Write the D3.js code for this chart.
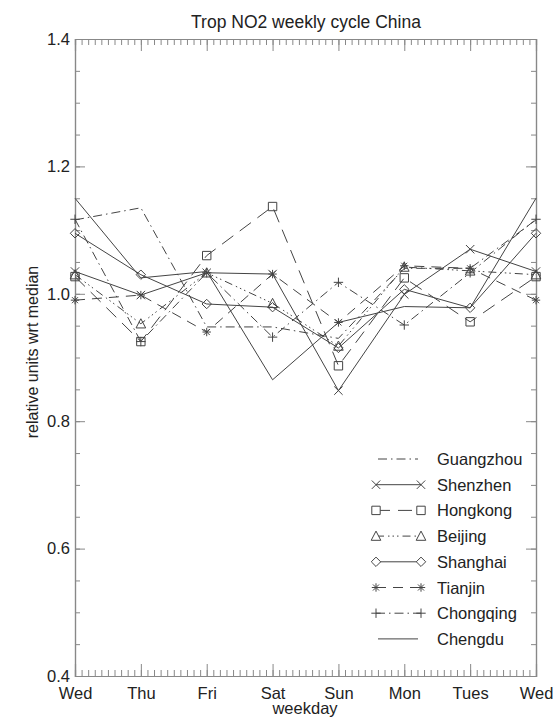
<!DOCTYPE html>
<html><head><meta charset="utf-8">
<script src="https://cdn.jsdelivr.net/npm/d3@7"></script>
<style>body{margin:0;background:#fff}text{font-family:"Liberation Sans",Arial,Helvetica,sans-serif;fill:#222}</style>
</head><body>
<svg id="c" width="556" height="717"></svg>
<script>
const days = ["Wed","Thu","Fri","Sat","Sun","Mon","Tues","Wed"];
const yTicks = [0.4,0.6,0.8,1.0,1.2,1.4];
const cities = ["Guangzhou","Shenzhen","Hongkong","Beijing","Shanghai","Tianjin","Chongqing","Chengdu"];
const guangzhou = [1.116,1.135,0.948,0.948,0.930,1.040,1.040,1.116];
const shenzhen  = [1.035,0.998,1.033,1.031,0.848,0.999,1.070,1.035];
const hongkong  = [1.027,0.925,1.060,1.137,0.887,1.025,0.956,1.027];
const beijing   = [1.030,0.953,1.033,0.985,0.918,1.042,1.036,1.030];
const shanghai  = [1.095,1.030,0.984,0.979,0.915,1.007,0.978,1.095];
const tianjin   = [0.990,0.998,0.940,1.031,0.955,1.044,1.040,0.990];
const chongqing = [1.117,0.925,1.033,0.932,1.018,0.951,1.033,1.117];
const chengdu   = [1.150,1.025,1.035,0.865,0.955,0.980,0.978,1.150];
const seriesValues = [guangzhou,shenzhen,hongkong,beijing,shanghai,tianjin,chongqing,chengdu];

const styles = [
  {dash:"9,4,1.5,4", sym:null},
  {dash:null, sym:"x"},
  {dash:"14,8", sym:"square"},
  {dash:"8,4,1.5,3,1.5,3,1.5,4", sym:"triangle"},
  {dash:null, sym:"diamond"},
  {dash:"10,7", sym:"asterisk"},
  {dash:"9,4,1.5,4", sym:"plus"},
  {dash:null, sym:null}
];

const svg = d3.select("#c");
const L=75,R=536,T=39,B=676;
const x = d3.scaleLinear().domain([0,7]).range([L,R]);
const y = d3.scaleLinear().domain([0.4,1.4]).range([B,T]);
const axisCol="#888", lineCol="#444";
const fs="16.5px";

function styleAxis(g){g.select(".domain").attr("stroke",axisCol);g.selectAll("line").attr("stroke",axisCol);g.selectAll("text").style("font-size",fs).attr("fill","#222");}

// minor ticks
const xMinor = d3.range(0,70.5,1).map(d=>d/10);
const yMinor = d3.range(8,28.5,1).map(d=>d*0.05);
svg.append("g").attr("transform",`translate(0,${B})`).call(d3.axisBottom(x).tickValues(xMinor).tickSize(-6).tickFormat("")).call(styleAxis);
svg.append("g").attr("transform",`translate(0,${T})`).call(d3.axisTop(x).tickValues(xMinor).tickSize(-6).tickFormat("")).call(styleAxis);
svg.append("g").attr("transform",`translate(${L},0)`).call(d3.axisLeft(y).tickValues(yMinor).tickSize(-5).tickFormat("")).call(styleAxis);
svg.append("g").attr("transform",`translate(${R},0)`).call(d3.axisRight(y).tickValues(yMinor).tickSize(-5).tickFormat("")).call(styleAxis);
// major ticks
svg.append("g").attr("transform",`translate(0,${B})`).call(d3.axisBottom(x).tickValues(d3.range(8)).tickSize(-12).tickPadding(11).tickFormat(i=>days[i])).call(styleAxis);
svg.append("g").attr("transform",`translate(0,${T})`).call(d3.axisTop(x).tickValues(d3.range(8)).tickSize(-12).tickFormat("")).call(styleAxis);
svg.append("g").attr("transform",`translate(${L},0)`).call(d3.axisLeft(y).tickValues(yTicks).tickSize(-10).tickPadding(5).tickFormat(d3.format(".1f"))).call(styleAxis);
svg.append("g").attr("transform",`translate(${R},0)`).call(d3.axisRight(y).tickValues(yTicks).tickSize(-10).tickFormat("")).call(styleAxis);
svg.selectAll(".domain").attr("stroke-width",1.2);

// titles
svg.append("text").attr("x",306).attr("y",28).attr("text-anchor","middle").style("font-size","17.5px").text("Trop NO2 weekly cycle China");
svg.append("text").attr("x",305).attr("y",714).attr("text-anchor","middle").style("font-size",fs).text("weekday");
svg.append("text").attr("transform","translate(38,352) rotate(-90)").attr("text-anchor","middle").style("font-size","16px").text("relative units wrt median");

function symPath(type){
  const r=4.2;
  switch(type){
    case "x": return `M${-r},${-r}L${r},${r}M${-r},${r}L${r},${-r}`;
    case "square": return `M${-r},${-r}H${r}V${r}H${-r}Z`;
    case "triangle": return `M0,${-r-0.8}L${r+0.6},${r}L${-r-0.6},${r}Z`;
    case "diamond": return `M0,${-r-0.5}L${r+0.5},0L0,${r+0.5}L${-r-0.5},0Z`;
    case "plus": return `M${-r-0.5},0H${r+0.5}M0,${-r-0.5}V${r+0.5}`;
    case "asterisk": { const a=r*0.72; return `M${-r},0H${r}M${-a},${-a}L${a},${a}M${-a},${a}L${a},${-a}M0,${-r}V${r}`; }
  }
  return "";
}

const line = d3.line().x((d,i)=>x(i)).y(d=>y(d));
const plot = svg.append("g");
seriesValues.forEach((vals,k)=>{
  const st=styles[k];
  plot.append("path").datum(vals).attr("d",line).attr("fill","none").attr("stroke",lineCol).attr("stroke-width",1)
    .attr("stroke-dasharray",st.dash);
  if(st.sym){
    plot.selectAll(null).data(vals).enter().append("path")
      .attr("transform",(d,i)=>`translate(${x(i)},${y(d)})`)
      .attr("d",symPath(st.sym)).attr("fill","none").attr("stroke",lineCol).attr("stroke-width",1);
  }
});

// legend
const lg = svg.append("g");
cities.forEach((c,k)=>{
  const st=styles[k];
  const cy=459+k*25.7;
  const x1 = st.sym?376:378, x2= st.sym?421:418;
  lg.append("line").attr("x1",x1).attr("x2",x2).attr("y1",cy).attr("y2",cy).attr("stroke",lineCol).attr("stroke-width",1).attr("stroke-dasharray",st.dash);
  if(st.sym){
    [x1,x2].forEach(xx=>lg.append("path").attr("transform",`translate(${xx},${cy})`).attr("d",symPath(st.sym)).attr("fill","#fff").attr("stroke",lineCol));
  }
  lg.append("text").attr("x",437).attr("y",cy+6).style("font-size",fs).text(c);
});
</script>
</body></html>
